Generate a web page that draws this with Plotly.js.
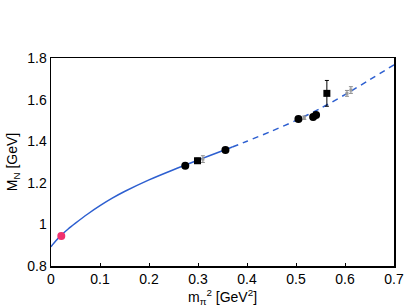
<!DOCTYPE html>
<html>
<head>
<meta charset="utf-8">
<script src="https://cdn.plot.ly/plotly-3.0.1.min.js"></script>
<style>html,body{margin:0;padding:0;background:#fff;}#chart{width:409px;height:307px;}</style>
</head>
<body>
<div id="chart"></div>
<script>
// Fitted curve
var curveX = [0, 0.01, 0.02, 0.035, 0.05, 0.075, 0.1, 0.125, 0.15, 0.2, 0.25, 0.3, 0.35, 0.37, 0.4, 0.45, 0.5, 0.55, 0.6, 0.65, 0.7];
var curveY = [0.893, 0.921, 0.946, 0.978, 1.006, 1.050, 1.090, 1.126, 1.158, 1.214, 1.263, 1.309, 1.354, 1.372, 1.400, 1.448, 1.500, 1.558, 1.624, 1.695, 1.767];
var solidEnd = 13; // index where solid part ends and dashed begins

// Physical point
var physX = [0.021];
var physY = [0.944];

// Circle data
var circX = [0.274, 0.356, 0.505, 0.535, 0.541];
var circY = [1.282, 1.358, 1.507, 1.516, 1.526];
var circErr = [0.006, 0.006, 0.008, 0.012, 0.01];

// Square data
var sqX = [0.299, 0.563];
var sqY = [1.306, 1.630];
var sqErr = [0.012, 0.062];

// Gray data
var grayX = [0.310, 0.517, 0.604, 0.612];
var grayY = [1.314, 1.513, 1.630, 1.646];
var grayErr = [0.016, 0.008, 0.014, 0.016];

var traces = [
  {x: curveX.slice(0, solidEnd + 1), y: curveY.slice(0, solidEnd + 1), mode: 'lines', line: {color: '#2d5fd0', width: 1.5, shape: 'spline', smoothing: 0.8}, hoverinfo: 'skip'},
  {x: curveX.slice(solidEnd), y: curveY.slice(solidEnd), mode: 'lines', line: {color: '#2d5fd0', width: 1.5, dash: '6px,5px', shape: 'spline', smoothing: 0.8}, hoverinfo: 'skip'},
  {x: grayX, y: grayY, mode: 'markers', marker: {color: '#9a9a9a', size: 3, symbol: 'square'}, error_y: {type: 'data', array: grayErr, color: '#8a8a8a', thickness: 1, width: 2}},
  {x: circX, y: circY, mode: 'markers', marker: {color: '#000', size: 8, symbol: 'circle'}, error_y: {type: 'data', array: circErr, color: '#000', thickness: 1, width: 2}},
  {x: sqX, y: sqY, mode: 'markers', marker: {color: '#000', size: 7, symbol: 'square'}, error_y: {type: 'data', array: sqErr, color: '#000', thickness: 1, width: 2}},
  {x: physX, y: physY, mode: 'markers', marker: {color: '#f0306e', size: 8, symbol: 'circle'}}
];

var layout = {
  width: 409, height: 307,
  margin: {l: 51, r: 15, t: 58, b: 41},
  paper_bgcolor: '#fff', plot_bgcolor: '#fff',
  showlegend: false,
  font: {family: 'Liberation Sans, Arial, sans-serif', size: 14, color: '#000'},
  xaxis: {
    range: [0, 0.7], dtick: 0.1, tick0: 0,
    showgrid: false, zeroline: false,
    showline: true, linecolor: '#000', linewidth: 1.5, mirror: true,
    ticks: 'inside', ticklen: 3, tickcolor: '#000',
    tickfont: {size: 14},
    title: {text: 'm<sub>π</sub><sup>2</sup> [GeV<sup>2</sup>]', font: {size: 14}, standoff: 0}
  },
  yaxis: {
    range: [0.8, 1.8], dtick: 0.2, tick0: 0.8,
    showgrid: false, zeroline: false,
    showline: true, linecolor: '#000', linewidth: 1.5, mirror: true,
    ticks: '', tickfont: {size: 14},
    title: {text: 'M<sub>N</sub> [GeV]', font: {size: 14}, standoff: 6}
  }
};

Plotly.newPlot('chart', traces, layout, {displayModeBar: false, staticPlot: true});
</script>
</body>
</html>
